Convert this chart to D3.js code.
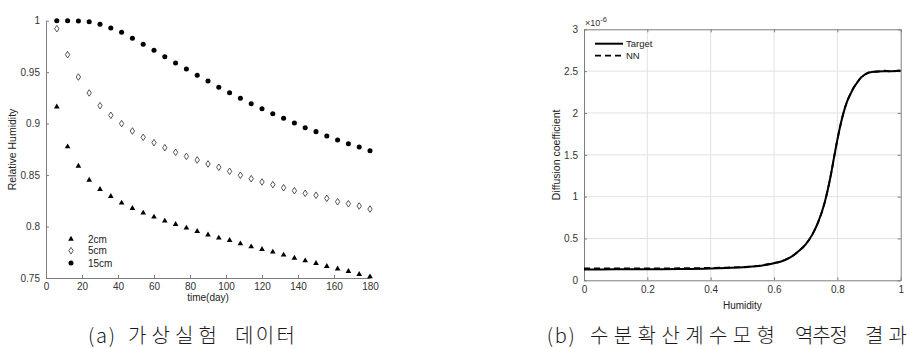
<!DOCTYPE html>
<html><head><meta charset="utf-8">
<script src="https://cdn.jsdelivr.net/npm/d3@7"></script>
<style>
body{margin:0;background:#fff}
svg{display:block}
text{font-family:"Liberation Sans",Arial,sans-serif}
</style>
</head><body>
<svg id="c" width="919" height="349"></svg>
<script>
// ---------- Panel (a) data ----------
const days = [6,12,18,24,30,36,42,48,54,60,66,72,78,84,90,96,102,108,114,120,126,132,138,144,150,156,162,168,174,180];
const rh2cm = [0.9164,0.8776,0.8588,0.8452,0.8362,0.8294,0.8229,0.8177,0.8132,0.8093,0.8054,0.8022,0.7986,0.7954,0.7920,0.7889,0.7866,0.7833,0.7804,0.7779,0.7753,0.7724,0.7694,0.7668,0.7643,0.7614,0.7590,0.7565,0.7536,0.7513];
const rh5cm = [0.9922,0.9670,0.9453,0.9298,0.9174,0.9081,0.9000,0.8928,0.8867,0.8815,0.8766,0.8721,0.8682,0.8647,0.8608,0.8576,0.8537,0.8498,0.8465,0.8433,0.8407,0.8377,0.8348,0.8323,0.8304,0.8274,0.8241,0.8222,0.8200,0.8170];
const rh15cm = [1.0,1.0,0.9998,0.9990,0.9965,0.9929,0.9887,0.9829,0.9771,0.9712,0.9650,0.9589,0.9531,0.9470,0.9414,0.9353,0.9300,0.9246,0.9194,0.9145,0.9096,0.9052,0.9006,0.8960,0.8922,0.8880,0.8841,0.8805,0.8773,0.8737];
const seriesNamesA = ["2cm","5cm","15cm"];
const xTicksA = [0,20,40,60,80,100,120,140,160,180];
const yTicksA = [0.75,0.8,0.85,0.9,0.95,1];
const yTickLabelsA = ["0.75","0.8","0.85","0.9","0.95","1"];

// ---------- Panel (b) data ----------
const humidity = [0,0.1,0.2,0.3,0.4,0.45,0.5,0.55,0.6,0.62,0.65,0.68,0.7,0.72,0.74,0.76,0.78,0.79,0.8,0.81,0.82,0.83,0.84,0.85,0.86,0.87,0.88,0.89,0.9,0.92,0.95,0.97,1.0];
const dTarget = [0.130,0.131,0.132,0.134,0.140,0.146,0.155,0.170,0.205,0.222,0.270,0.355,0.430,0.540,0.700,0.930,1.270,1.480,1.680,1.860,2.010,2.130,2.215,2.290,2.350,2.405,2.440,2.468,2.482,2.495,2.500,2.500,2.505];
const dNN = [0.143,0.143,0.143,0.144,0.148,0.152,0.159,0.173,0.207,0.224,0.272,0.355,0.430,0.540,0.700,0.930,1.270,1.480,1.680,1.860,2.010,2.130,2.220,2.295,2.350,2.400,2.445,2.465,2.485,2.490,2.505,2.495,2.510];
const seriesNamesB = ["Target","NN"];
const xTicksB = [0,0.2,0.4,0.6,0.8,1];
const xTickLabelsB = ["0","0.2","0.4","0.6","0.8","1"];
const yTicksB = [0,0.5,1,1.5,2,2.5,3];
const yTickLabelsB = ["0","0.5","1","1.5","2","2.5","3"];

const captionWordsA = ["(a)","가상실험","데이터"];
const captionWordsB = ["(b)","수분확산계수모형","역추정","결과"];

const svg = d3.select("#c");
const AXC = "#7d7d7d", TXC = "#333";

function styleAxis(g){
  g.select(".domain").attr("stroke", AXC);
  g.selectAll(".tick line").attr("stroke", AXC);
  g.selectAll(".tick text").attr("fill", TXC).style("font-size","10px").style("font-family",'"Liberation Sans",Arial,sans-serif');
}

// ================= Panel (a) =================
const xA = d3.scaleLinear().domain([0,180]).range([46,370]);
const yA = d3.scaleLinear().domain([0.75,1]).range([278,20.7]);

const gA = svg.append("g");
gA.append("g").attr("transform","translate(0,278)")
  .call(d3.axisBottom(xA).tickValues(xTicksA).tickSize(-3).tickSizeOuter(0).tickPadding(5).tickFormat(d=>String(d)))
  .call(styleAxis);
gA.append("g").attr("transform","translate(46,0)")
  .call(d3.axisLeft(yA).tickValues(yTicksA).tickSize(-3).tickSizeOuter(0).tickPadding(6).tickFormat((d,i)=>yTickLabelsA[i]))
  .call(styleAxis);

const tri = d3.symbol().type(d3.symbolTriangle).size(14);
const circ = d3.symbol().type(d3.symbolCircle).size(20);
function diamondPath(){ return "M0,-3.3L2.2,0L0,3.3L-2.2,0Z"; }

gA.append("g").selectAll("path").data(days.map((d,i)=>[d,rh2cm[i]])).join("path")
  .attr("d", tri).attr("fill","#000")
  .attr("transform", d=>`translate(${xA(d[0])},${yA(d[1])})`);
gA.append("g").selectAll("path").data(days.map((d,i)=>[d,rh5cm[i]])).join("path")
  .attr("d", diamondPath).attr("fill","#fff").attr("stroke","#444").attr("stroke-width",0.9)
  .attr("transform", d=>`translate(${xA(d[0])},${yA(d[1])})`);
gA.append("g").selectAll("path").data(days.map((d,i)=>[d,rh15cm[i]])).join("path")
  .attr("d", circ).attr("fill","#000")
  .attr("transform", d=>`translate(${xA(d[0])},${yA(d[1])})`);

const legA = gA.append("g");
const legYA = [239,250.7,263];
const legMarks = [tri, diamondPath, circ];
seriesNamesA.forEach((n,i)=>{
  const p = legA.append("path").attr("d", legMarks[i]).attr("transform",`translate(71,${legYA[i]})`);
  if(i===1) p.attr("fill","#fff").attr("stroke","#444").attr("stroke-width",0.9); else p.attr("fill","#000");
  legA.append("text").attr("x",88).attr("y",legYA[i]).attr("dy","0.35em").attr("fill","#222").style("font-size","10px").text(n);
});

gA.append("text").attr("x",208).attr("y",300.5).attr("text-anchor","middle").attr("fill","#222").style("font-size","10px").text("time(day)");
gA.append("text").attr("transform","translate(16,149.5) rotate(-90)").attr("text-anchor","middle").attr("fill","#222").style("font-size","10.5px").text("Relative Humidity");

// ================= Panel (b) =================
const xB = d3.scaleLinear().domain([0,1]).range([584,900.7]);
const yB = d3.scaleLinear().domain([0,3]).range([280.3,29.3]);
const gB = svg.append("g");

gB.append("g").selectAll("line").data(xTicksB.slice(1,-1)).join("line")
  .attr("x1",d=>xB(d)).attr("x2",d=>xB(d)).attr("y1",yB(0)).attr("y2",yB(3))
  .attr("stroke","#e2e2e2").attr("stroke-width",1);
gB.append("g").selectAll("line").data(yTicksB.slice(1,-1)).join("line")
  .attr("y1",d=>yB(d)).attr("y2",d=>yB(d)).attr("x1",xB(0)).attr("x2",xB(1))
  .attr("stroke","#e2e2e2").attr("stroke-width",1);

gB.append("g").attr("transform",`translate(0,${yB(0)})`)
  .call(d3.axisBottom(xB).tickValues(xTicksB).tickSize(-3).tickSizeOuter(0).tickPadding(6).tickFormat((d,i)=>xTickLabelsB[i]))
  .call(styleAxis);
gB.append("g").attr("transform",`translate(${xB(0)},0)`)
  .call(d3.axisLeft(yB).tickValues(yTicksB).tickSize(-3).tickSizeOuter(0).tickPadding(6).tickFormat((d,i)=>yTickLabelsB[i]))
  .call(styleAxis);
gB.append("g").attr("transform",`translate(0,${yB(3)})`)
  .call(d3.axisTop(xB).tickValues(xTicksB).tickSize(-3).tickSizeOuter(0).tickFormat(""))
  .call(styleAxis);
gB.append("g").attr("transform",`translate(${xB(1)},0)`)
  .call(d3.axisRight(yB).tickValues(yTicksB).tickSize(-3).tickSizeOuter(0).tickFormat(""))
  .call(styleAxis);

const lineB = d3.line().x(d=>xB(d[0])).y(d=>yB(d[1])).curve(d3.curveMonotoneX);
gB.append("path").datum(humidity.map((h,i)=>[h,dTarget[i]])).attr("d",lineB)
  .attr("fill","none").attr("stroke","#000").attr("stroke-width",2);
gB.append("path").datum(humidity.map((h,i)=>[h,dNN[i]])).attr("d",lineB)
  .attr("fill","none").attr("stroke","#000").attr("stroke-width",1.8).attr("stroke-dasharray","6,4");

const ex = gB.append("text").attr("x",585).attr("y",26).attr("fill","#333").style("font-size","9px");
ex.append("tspan").text("×10");
ex.append("tspan").attr("dy",-4).style("font-size","7.5px").text("-6");

const legYB = [43.7,55.7];
seriesNamesB.forEach((n,i)=>{
  gB.append("line").attr("x1",595).attr("x2",623).attr("y1",legYB[i]).attr("y2",legYB[i])
    .attr("stroke","#000").attr("stroke-width",i?1.8:2).attr("stroke-dasharray",i?"6,4":null);
  gB.append("text").attr("x",626).attr("y",legYB[i]).attr("dy","0.35em").attr("fill","#222").style("font-size","9.5px").text(n);
});

gB.append("text").attr("x",742.4).attr("y",308.5).attr("text-anchor","middle").attr("fill","#222").style("font-size","10px").text("Humidity");
gB.append("text").attr("transform","translate(560,154.8) rotate(-90)").attr("text-anchor","middle").attr("fill","#222").style("font-size","10.5px").text("Diffusion coefficient");

// captions: words placed where the reference puts them
const capStyle = t => t.attr("fill","#1a1a1a").style("font-family",'"Noto Sans CJK KR",sans-serif').style("font-size","20px").style("font-weight",300);
const capA = [[88,27],[128,89],[235,60]];
captionWordsA.forEach((w,i)=>{
  svg.append("text").attr("x",capA[i][0]).attr("y",343).attr("textLength",capA[i][1]).attr("lengthAdjust","spacing").call(capStyle).text(w);
});
const capB = [[546.7,28],[590,185],[795,53],[865,42]];
captionWordsB.forEach((w,i)=>{
  svg.append("text").attr("x",capB[i][0]).attr("y",343).attr("textLength",capB[i][1]).attr("lengthAdjust","spacing").call(capStyle).text(w);
});
</script>
</body></html>
